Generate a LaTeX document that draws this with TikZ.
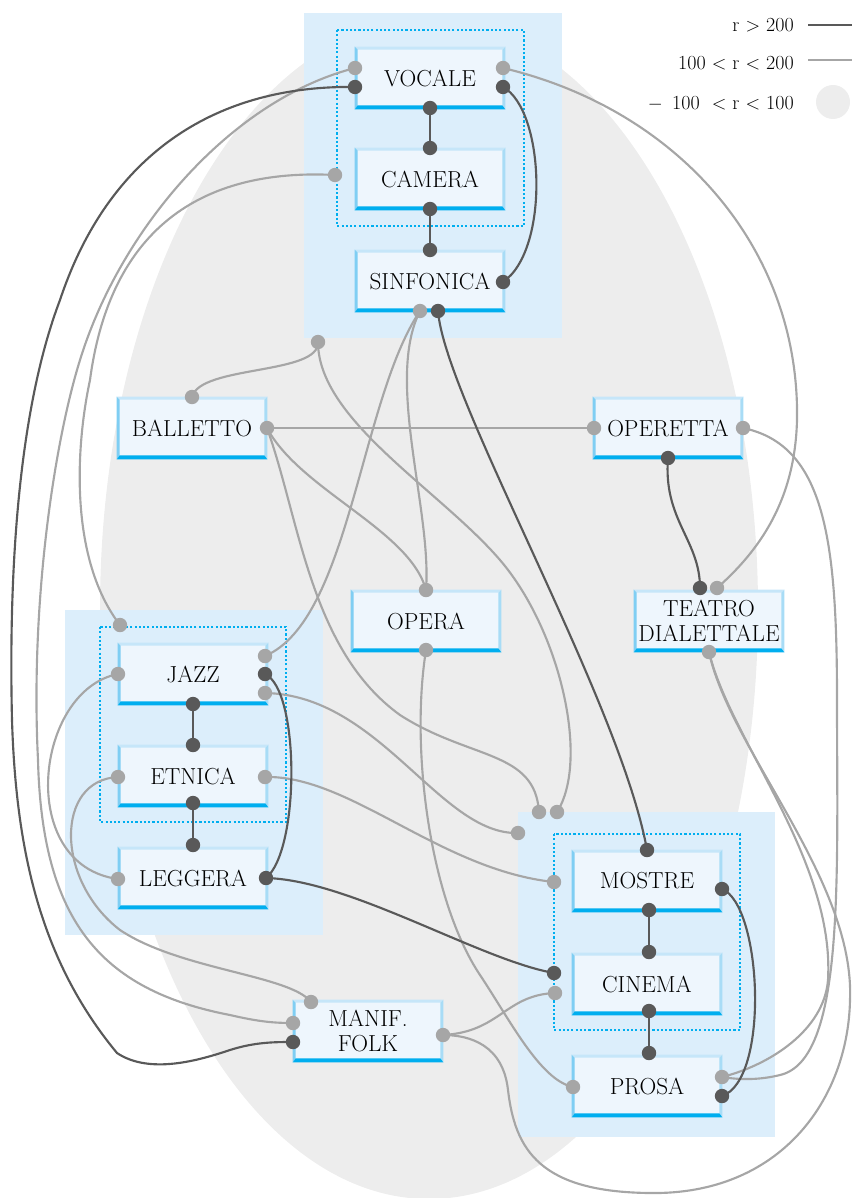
\documentclass[tikz,border=0pt]{standalone}
\usetikzlibrary{calc}
\definecolor{dk}{HTML}{595959}
\definecolor{lg}{HTML}{A6A6A6}
\definecolor{grpbg}{HTML}{DCEEFB}
\definecolor{ellc}{HTML}{EDEDED}
\definecolor{boxf}{HTML}{EEF6FD}
\definecolor{bvT}{HTML}{C6E6F9}
\definecolor{bvL}{HTML}{7FCEF3}
\definecolor{bvR}{HTML}{A8DCF6}
\definecolor{bvB}{HTML}{00AEEF}
\begin{document}
\begin{tikzpicture}[x=0.75pt,y=-0.75pt,
  boxn/.style={rectangle,fill=boxf,minimum width=112.5pt,minimum height=46.5pt,inner sep=0pt,align=center,font=\fontsize{17.4}{18.5}\selectfont},
  grp/.style={fill=grpbg},
  dotbox/.style={draw=bvB,line width=1.6pt,dash pattern=on 1.6pt off 1.6pt},
  dkl/.style={draw=dk,line width=1.6pt},
  lgl/.style={draw=lg,line width=1.6pt},
  legtxt/.style={anchor=east,inner sep=0pt,font=\fontsize{15}{18}\selectfont}
]
\useasboundingbox (0,0) rectangle (852,1198);
% background ellipse
\fill[ellc] (429,609) ellipse [x radius=246.75pt, y radius=442.5pt];
% groups
\fill[grp] (304,13) rectangle (562,338);
\fill[grp] (65,610) rectangle (323,935);
\fill[grp] (518,812) rectangle (775,1137);
\draw[dotbox] (337,30) rectangle (524,226);
\draw[dotbox] (100,627) rectangle (286,822);
\draw[dotbox] (554,834) rectangle (740,1030);

% nodes
\node[boxn] (voc) at (430,78) {VOCALE};
\node[boxn] (cam) at (430,179) {CAMERA};
\node[boxn] (sin) at (430,281) {SINFONICA};
\node[boxn] (bal) at (192,428) {BALLETTO};
\node[boxn] (opt) at (668,428) {OPERETTA};
\node[boxn] (opa) at (426,621) {OPERA};
\node[boxn] (td) at (709,621) {TEATRO\\DIALETTALE};
\node[boxn] (jaz) at (193,674) {JAZZ};
\node[boxn] (etn) at (193,776) {ETNICA};
\node[boxn] (leg) at (193,878) {LEGGERA};
\node[boxn] (mos) at (647,881) {MOSTRE};
\node[boxn] (cin) at (647,984) {CINEMA};
\node[boxn] (pro) at (647,1086) {PROSA};
\node[boxn] (man) at (368,1031) {MANIF.\\FOLK};

% bevel borders
\foreach \n in {voc,cam,sin,bal,opt,opa,td,jaz,etn,leg,mos,cin,pro,man}{
  \fill[bvT] (\n.north west) -- (\n.north east) -- ([shift={(-3,3)}]\n.north east) -- ([shift={(3,3)}]\n.north west) -- cycle;
  \fill[bvL] (\n.north west) -- ([shift={(3,3)}]\n.north west) -- ([shift={(3,-4)}]\n.south west) -- (\n.south west) -- cycle;
  \fill[bvR] (\n.north east) -- ([shift={(-3,3)}]\n.north east) -- ([shift={(-3,-4)}]\n.south east) -- (\n.south east) -- cycle;
  \fill[bvB] (\n.south west) -- ([shift={(3,-4)}]\n.south west) -- ([shift={(-3,-4)}]\n.south east) -- (\n.south east) -- cycle;
}

% connector end points
\coordinate (vocLg) at (355,68);
\coordinate (vocLd) at (355,87);
\coordinate (vocRg) at (503,68);
\coordinate (vocRd) at (503,87);
\coordinate (vocB) at (430,108);
\coordinate (camT) at (430,148);
\coordinate (camB) at (430,209);
\coordinate (camL) at (335,175);
\coordinate (sinT) at (430,250);
\coordinate (sinR) at (503,282);
\coordinate (sinBg) at (420,311);
\coordinate (sinBd) at (438,311);
\coordinate (grpT) at (318,342);
\coordinate (balT) at (192,397);
\coordinate (balR) at (267,428);
\coordinate (optL) at (594,428);
\coordinate (optR) at (743,428);
\coordinate (optB) at (668,458);
\coordinate (opaT) at (426,590);
\coordinate (opaB) at (426,650);
\coordinate (tdTd) at (700,588);
\coordinate (tdTg) at (717,588);
\coordinate (tdB) at (709,652);
\coordinate (grpL) at (120,625);
\coordinate (jazL) at (118,674);
\coordinate (jazRa) at (265,656);
\coordinate (jazRd) at (265,674);
\coordinate (jazRb) at (265,693);
\coordinate (jazB) at (193,704);
\coordinate (etnT) at (193,745);
\coordinate (etnL) at (118,777);
\coordinate (etnR) at (265,777);
\coordinate (etnB) at (193,803);
\coordinate (legT) at (193,845);
\coordinate (legL) at (118,879);
\coordinate (legR) at (266,878);
\coordinate (grpRa) at (539,812);
\coordinate (grpRb) at (557,812);
\coordinate (grpRc) at (518,833);
\coordinate (mosT) at (647,850);
\coordinate (mosL) at (554,882);
\coordinate (mosR) at (722,889);
\coordinate (mosB) at (649,910);
\coordinate (cinT) at (649,952);
\coordinate (cinLd) at (554,973);
\coordinate (cinLg) at (555,993);
\coordinate (cinB) at (649,1011);
\coordinate (proT) at (649,1053);
\coordinate (proL) at (573,1087);
\coordinate (proRg) at (722,1077);
\coordinate (proRd) at (722,1096);
\coordinate (manT) at (311,1002);
\coordinate (manLg) at (293,1023);
\coordinate (manLd) at (293,1042);
\coordinate (manR) at (443,1035);

% grey connectors
\draw[lgl] (vocLg) .. controls (230,100) and (120,230) .. (80,360) .. controls (55,440) and (30,600) .. (38,760) .. controls (42,920) and (100,990) .. (230,1015) .. controls (260,1022) and (275,1023) .. (manLg);
\draw[lgl] (camL) .. controls (200,168) and (110,230) .. (90,380) .. controls (75,450) and (70,560) .. (grpL);
\draw[lgl] (vocRg) .. controls (680,110) and (800,250) .. (797,420) .. controls (795,500) and (760,550) .. (tdTg);
\draw[lgl] (sinBg) .. controls (385,380) and (432,510) .. (opaT);
\draw[lgl] (sinBg) .. controls (360,400) and (350,620) .. (jazRa);
\draw[lgl] (grpT) .. controls (320,375) and (200,365) .. (balT);
\draw[lgl] (grpT) .. controls (318,420) and (440,490) .. (500,560) .. controls (560,630) and (590,760) .. (grpRb);
\draw[lgl] (balR) -- (optL);
\draw[lgl] (balR) .. controls (300,490) and (410,530) .. (opaT);
\draw[lgl] (balR) .. controls (300,520) and (310,650) .. (400,715) .. controls (470,760) and (535,750) .. (grpRa);
\draw[lgl] (jazRb) .. controls (380,695) and (440,835) .. (grpRc);
\draw[lgl] (etnR) .. controls (350,775) and (440,870) .. (mosL);
\draw[lgl] (opaB) .. controls (410,750) and (430,900) .. (480,975) .. controls (510,1020) and (540,1080) .. (proL);
\draw[lgl] (optR) .. controls (825,445) and (837,540) .. (837,700) .. controls (837,880) and (845,1060) .. (780,1075) .. controls (760,1080) and (740,1080) .. (proRg);
\draw[lgl] (tdB) .. controls (730,740) and (835,860) .. (828,980) .. controls (824,1030) and (770,1065) .. (proRg);
\draw[lgl] (tdB) .. controls (730,750) and (855,880) .. (850,1000) .. controls (848,1100) and (780,1195) .. (650,1193) .. controls (540,1192) and (515,1150) .. (508,1090) .. controls (503,1045) and (470,1035) .. (manR);
\draw[lgl] (manR) .. controls (500,1032) and (505,995) .. (cinLg);
\draw[lgl] (jazL) .. controls (35,690) and (15,865) .. (legL);
\draw[lgl] (etnL) .. controls (55,780) and (55,880) .. (120,930) .. controls (180,970) and (290,975) .. (manT);

% dark connectors
\draw[dkl] (vocB) -- (camT);
\draw[dkl] (camB) -- (sinT);
\draw[dkl] (vocRd) .. controls (545,110) and (550,250) .. (sinR);
\draw[dkl] (vocLd) .. controls (220,85) and (110,150) .. (60,300) .. controls (22,400) and (8,550) .. (12,720) .. controls (16,850) and (40,960) .. (117,1053) .. controls (150,1075) and (200,1060) .. (230,1050) .. controls (255,1042) and (275,1042) .. (manLd);
\draw[dkl] (sinBd) .. controls (445,400) and (620,700) .. (mosT);
\draw[dkl] (optB) .. controls (663,520) and (700,540) .. (tdTd);
\draw[dkl] (jazRd) .. controls (300,690) and (300,850) .. (legR);
\draw[dkl] (jazB) -- (etnT);
\draw[dkl] (etnB) -- (legT);
\draw[dkl] (legR) .. controls (350,880) and (480,960) .. (cinLd);
\draw[dkl] (mosB) -- (cinT);
\draw[dkl] (cinB) -- (proT);
\draw[dkl] (mosR) .. controls (762,905) and (770,1080) .. (proRd);

% dots
\foreach \c in {vocLg,vocRg,camL,sinBg,grpT,balT,balR,optL,optR,opaT,opaB,tdTg,tdB,grpL,jazL,jazRa,jazRb,etnL,etnR,legL,grpRa,grpRb,grpRc,mosL,cinLg,proL,proRg,manT,manLg,manR}
  \fill[lg] (\c) circle[radius=5.4pt];
\foreach \c in {vocLd,vocRd,vocB,camT,camB,sinT,sinR,sinBd,optB,tdTd,jazRd,jazB,etnT,etnB,legT,legR,mosT,mosR,mosB,cinT,cinLd,cinB,proT,proRd,manLd}
  \fill[dk] (\c) circle[radius=5.4pt];

% legend
\node[legtxt] (l1) at (794,25) {r $>$ 200};
\node[legtxt] (l2) at (794,63) {100 $<$ r $<$ 200};
\node[legtxt] (l3) at (794,104) {$-$\ \,100\ \ $<$ r $<$ 100};
\coordinate (l1a) at (808,25); \coordinate (l1b) at (852,25);
\coordinate (l2a) at (808,60); \coordinate (l2b) at (852,60);
\draw[draw=dk,line width=2.2pt] (l1a) -- (l1b);
\draw[draw=lg,line width=2.2pt] (l2a) -- (l2b);
\fill[ellc] (833,102) circle[radius=12.75pt];
\end{tikzpicture}
\end{document}
